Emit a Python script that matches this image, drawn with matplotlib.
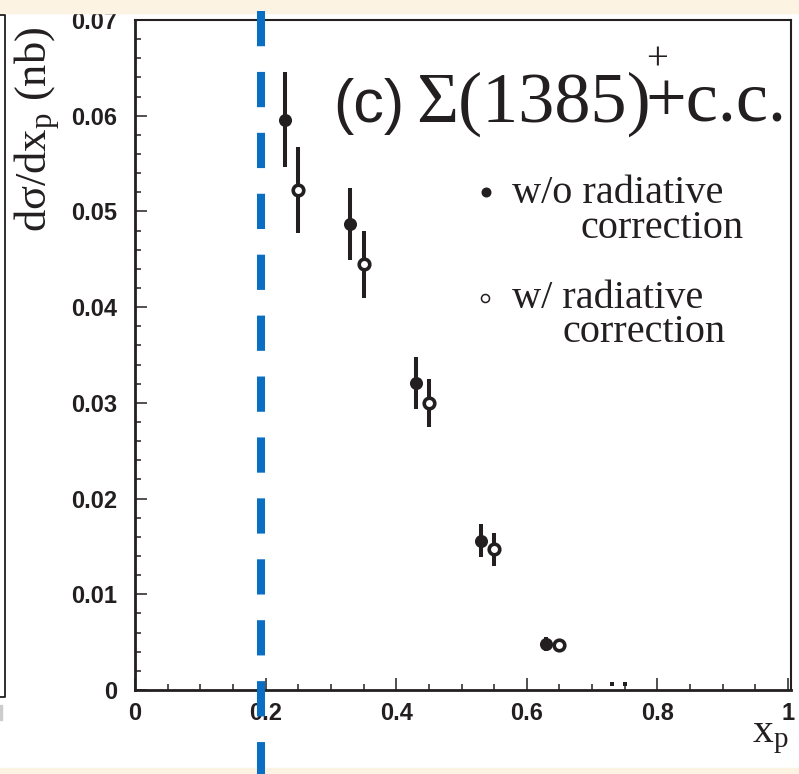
import matplotlib
matplotlib.use('Agg')
import matplotlib.pyplot as plt
from matplotlib.lines import Line2D
from matplotlib.patches import Rectangle
from matplotlib.ticker import MultipleLocator, FixedLocator

W, H = 799, 774

# ---- data ----
x_wo = [0.23, 0.33, 0.43, 0.53, 0.63]
y_wo = [0.0596, 0.0487, 0.0321, 0.0156, 0.0048]
e_wo = [0.0050, 0.0038, 0.0027, 0.0017, 0.0007]
x_w = [0.25, 0.35, 0.45, 0.55, 0.65]
y_w = [0.0522, 0.0445, 0.0300, 0.0147, 0.0047]
e_w = [0.0045, 0.0035, 0.0025, 0.0017, 0.0006]
x_tail = [0.73, 0.75]
y_tail = [0.0006, 0.0006]
cut_x = 0.193
xticks = [0, 0.2, 0.4, 0.6, 0.8, 1]
xtick_labels = ['0', '0.2', '0.4', '0.6', '0.8', '1']
yticks = [0, 0.01, 0.02, 0.03, 0.04, 0.05, 0.06, 0.07]
ytick_labels = ['0', '0.01', '0.02', '0.03', '0.04', '0.05', '0.06', '0.07']

plt.rcParams['mathtext.fontset'] = 'custom'
plt.rcParams['mathtext.rm'] = 'Liberation Serif'
plt.rcParams['mathtext.it'] = 'Liberation Serif:italic'

INK = '#231f20'
CREAM = '#fdf3e3'
BLUE = '#0a6fc2'
SERIF = 'Liberation Serif'
SANS = 'Liberation Sans'


def fx(x):
    return x / W


def fy(y):
    return 1 - y / H


fig = plt.figure(figsize=(W / 100, H / 100), dpi=100)
fig.patch.set_facecolor('white')
fig.patches.append(Rectangle((0, fy(13)), 1, 13 / H, transform=fig.transFigure,
                             color=CREAM, zorder=0))
fig.patches.append(Rectangle((0, 0), 1, 6 / H, transform=fig.transFigure,
                             color=CREAM, zorder=0))

# partial neighbouring frame on the left
fig.lines.append(Line2D([fx(0), fx(5), fx(5), fx(0)], [fy(15), fy(15), fy(697), fy(697)],
                        transform=fig.transFigure, color=INK, lw=1.3))
fig.patches.append(Rectangle((0, fy(720)), 2 / W, 15 / H, transform=fig.transFigure,
                             color='#cccccc', zorder=1))

ax = fig.add_axes([fx(135), fy(690), 656 / W, 670 / H])
ax.set_xlim(0, 656 / 653)
ax.set_ylim(0, 0.07)

ax.errorbar(x_wo, y_wo, yerr=e_wo, fmt='o', color=INK, ms=9.4, mew=0,
            elinewidth=2.9, capsize=0, zorder=3)
ax.errorbar(x_w, y_w, yerr=e_w, fmt='o', color=INK, mfc='white', mec=INK,
            ms=7.6, mew=2.6, elinewidth=2.9, capsize=0, zorder=3)
ax.plot(x_tail, y_tail, 's', color=INK, ms=3.2, mew=0, zorder=3)

for s in ax.spines.values():
    s.set_linewidth(1.5)
    s.set_color(INK)
ax.spines['bottom'].set_linewidth(2.0)
ax.spines['left'].set_linewidth(2.0)

ax.xaxis.set_major_locator(FixedLocator(xticks))
ax.set_xticklabels(xtick_labels)
ax.xaxis.set_minor_locator(MultipleLocator(0.05))
ax.yaxis.set_major_locator(FixedLocator(yticks))
ax.set_yticklabels(ytick_labels)
ax.yaxis.set_minor_locator(MultipleLocator(0.002))
ax.tick_params(which='both', direction='in', top=False, right=False, color=INK, width=1.1)
ax.tick_params(which='major', length=8.6)
ax.tick_params(which='minor', length=4.3)
ax.tick_params(axis='x', pad=8.6)
ax.tick_params(axis='y', pad=13)
for lab in ax.get_xticklabels() + ax.get_yticklabels():
    lab.set_fontfamily(SANS)
    lab.set_fontweight('bold')
    lab.set_fontsize(17)
    lab.set_color(INK)

# blue dashed cut line (extends beyond the axes)
cut_px = 135 + 653 * cut_x
fig.lines.append(Line2D([fx(cut_px), fx(cut_px)], [fy(11), fy(790)],
                        transform=fig.transFigure, color=BLUE, lw=5.8,
                        dashes=(35 / 8, 25.5 / 8), solid_capstyle='butt',
                        dash_capstyle='butt', zorder=5))

# axis labels
fig.text(fx(47), fy(232), r'd$\mathrm{\sigma}$/dx$_{\mathrm{p}}$ (nb)', rotation=90,
         rotation_mode='anchor', ha='left', va='baseline', family=SERIF, fontsize=32,
         color=INK)
fig.text(fx(752), fy(742), r'x$_{\mathrm{p}}$', ha='left', va='baseline',
         family=SERIF, fontsize=30, color=INK)

# title
fig.text(fx(333), fy(122), '(c)', ha='left', va='baseline', family=SANS,
         fontsize=44, color=INK)
fig.text(fx(416), fy(122), 'Σ(1385)', ha='left', va='baseline', family=SERIF,
         fontsize=52, color=INK)
fig.text(fx(657), fy(60), '+', ha='center', va='center', family=SERIF,
         fontsize=28, color=INK)
fig.text(fx(645), fy(122), '+c.c.', ha='left', va='baseline', family=SERIF,
         fontsize=52, color=INK)

# legend
fig.lines.append(Line2D([fx(486)], [fy(192)], transform=fig.transFigure, marker='o',
                        ms=7.2, mew=0, color=INK, ls='none'))
fig.lines.append(Line2D([fx(485)], [fy(298)], transform=fig.transFigure, marker='o',
                        ms=5.8, mew=1.1, mfc='white', mec=INK, ls='none'))
fig.text(fx(512), fy(203), 'w/o radiative', ha='left', va='baseline', family=SERIF,
         fontsize=29, color=INK)
fig.text(fx(580), fy(238), 'correction', ha='left', va='baseline', family=SERIF,
         fontsize=29, color=INK)
fig.text(fx(512), fy(308), 'w/ radiative', ha='left', va='baseline', family=SERIF,
         fontsize=29, color=INK)
fig.text(fx(563), fy(342), 'correction', ha='left', va='baseline', family=SERIF,
         fontsize=29, color=INK)

fig.savefig('out.png', dpi=100, facecolor=fig.get_facecolor())
